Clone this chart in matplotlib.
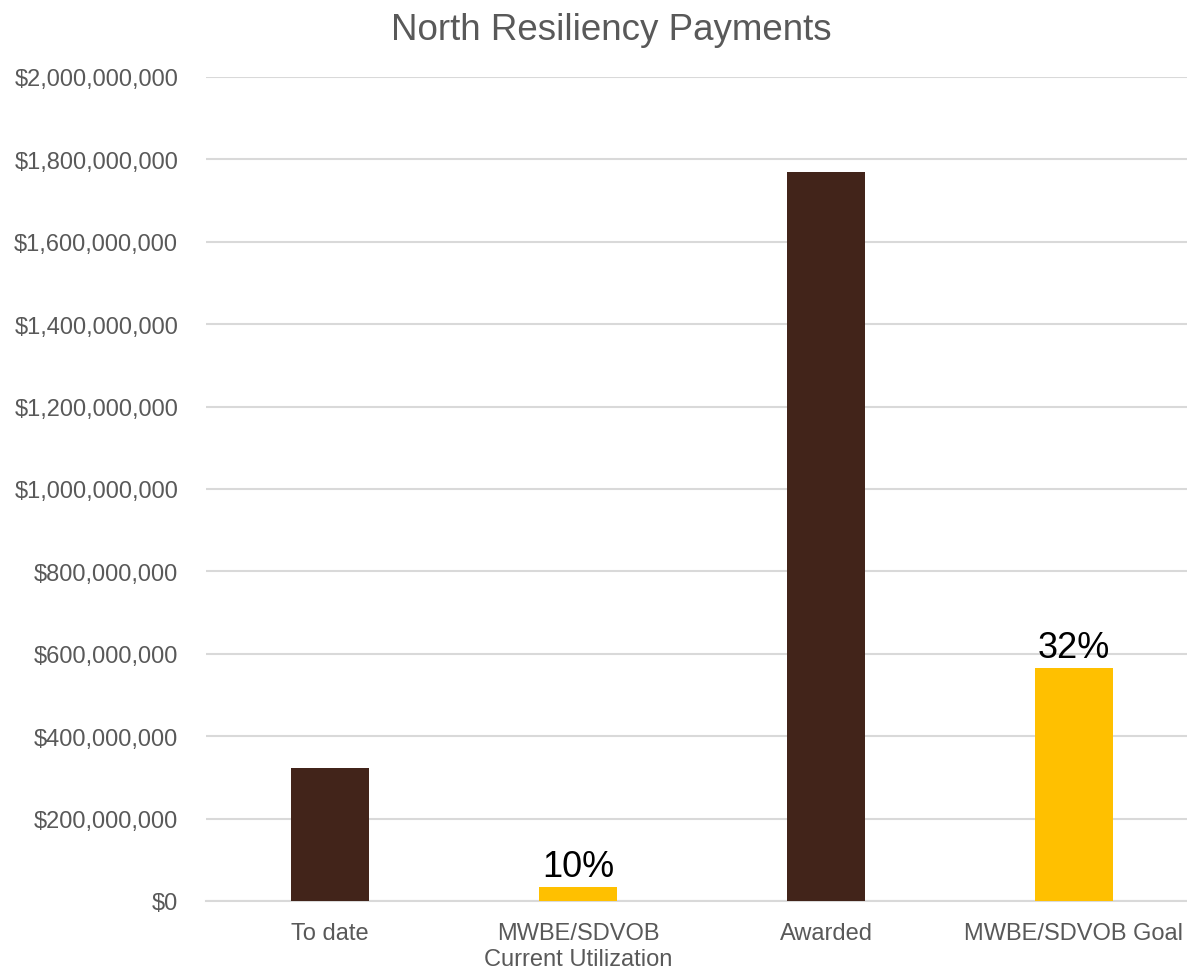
import matplotlib
matplotlib.use("Agg")
import matplotlib.pyplot as plt
from matplotlib.ticker import FuncFormatter, MultipleLocator

plt.rcParams['font.family'] = ['Liberation Sans', 'DejaVu Sans']

categories = ["To date", "MWBE/SDVOB\nCurrent Utilization", "Awarded", "MWBE/SDVOB Goal"]
values = [323_000_000, 33_500_000, 1_769_000_000, 566_000_000]
bar_colors = ["#42241A", "#FFC000", "#42241A", "#FFC000"]
pct_labels = ["", "10%", "", "32%"]

grey = "#595959"
grid_grey = "#D9D9D9"

fig = plt.figure(figsize=(11.87, 9.70), dpi=100)
ax = fig.add_axes([206 / 1187, 68 / 970, 992 / 1187, 824 / 970])

x = range(len(categories))
bars = ax.bar(x, values, width=0.315, color=bar_colors, zorder=3)

# percentage labels above the MWBE bars
for rect, lab in zip(bars, pct_labels):
    if lab:
        ax.annotate(lab, (rect.get_x() + rect.get_width() / 2, rect.get_height()),
                    xytext=(0, 2), textcoords="offset points",
                    ha="center", va="bottom", fontsize=26, color="black")

ax.set_xlim(-0.5, len(categories) - 0.5)
ax.set_ylim(0, 2_000_000_000)
ax.yaxis.set_major_locator(MultipleLocator(200_000_000))
ax.yaxis.set_major_formatter(FuncFormatter(lambda v, p: f"${v:,.0f}"))

ax.set_xticks(list(x))
ax.set_xticklabels(categories)
for t in ax.get_xticklabels():
    t.set_linespacing(1.25)

ax.tick_params(axis="y", length=0, pad=20, labelsize=17, labelcolor=grey)
ax.tick_params(axis="x", length=0, pad=15, labelsize=17, labelcolor=grey)

ax.grid(axis="y", color=grid_grey, linewidth=1.5, zorder=0)
for side in ["top", "right", "left"]:
    ax.spines[side].set_visible(False)
ax.spines["bottom"].set_color(grid_grey)
ax.spines["bottom"].set_linewidth(1.5)

fig.text(611 / 1187, 0.969, "North Resiliency Payments", ha="center", va="center",
         fontsize=26.5, color=grey)

fig.savefig("out.png", dpi=100)
